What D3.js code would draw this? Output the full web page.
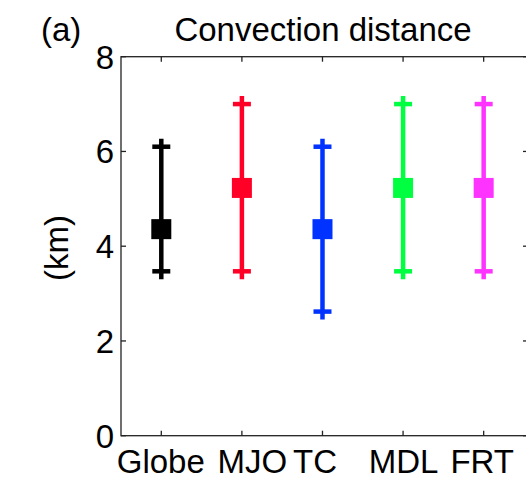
<!DOCTYPE html>
<html><head>
<meta charset="utf-8">
<script src="https://d3js.org/d3.v7.min.js"></script>
<style>
  body { margin: 0; background: #fff; }
  text { font-family: "Liberation Sans", Arial, sans-serif; fill: #000; }
</style>
</head>
<body>
<svg id="chart" width="526" height="481"></svg>
<script>
// data
const regions = ["Globe", "MJO", "TC", "MDL", "FRT"];
const meanKm  = [4.36, 5.23, 4.36, 5.23, 5.23];
const lowKm   = [3.47, 3.47, 2.62, 3.47, 3.47];
const highKm  = [6.10, 7.00, 6.10, 7.00, 7.00];
const colors  = ["#000000", "#ff0027", "#0033ff", "#00ff40", "#ff33ff"];
const yTicks  = [0, 2, 4, 6, 8];
// the tick labels in the original are not exactly centred on the ticks
const labelShift = [-0.5, 10.5, -7.5, 0.5, -1.5];

const svg = d3.select("#chart");
const pLeft = 121, pRight = 528, pTop = 56.7, pBottom = 435.7;
const fs = 33;

const x = d3.scaleLinear().domain([0.5, 5.55]).range([pLeft, pRight]);
const y = d3.scaleLinear().domain([0, 8]).range([pBottom, pTop]);

// axes box
const ax = svg.append("g").attr("stroke", "#222").attr("stroke-width", 1.3).attr("fill", "none");
ax.append("rect").attr("x", pLeft).attr("y", pTop).attr("width", pRight - pLeft).attr("height", pBottom - pTop);

// ticks (inward, on all sides)
const tl = 5;
regions.forEach((r, i) => {
  ax.append("line").attr("x1", x(i + 1)).attr("x2", x(i + 1)).attr("y1", pBottom).attr("y2", pBottom - tl);
  ax.append("line").attr("x1", x(i + 1)).attr("x2", x(i + 1)).attr("y1", pTop).attr("y2", pTop + tl);
});
yTicks.forEach(t => {
  ax.append("line").attr("x1", pLeft).attr("x2", pLeft + tl).attr("y1", y(t)).attr("y2", y(t));
  ax.append("line").attr("x1", pRight).attr("x2", pRight - tl).attr("y1", y(t)).attr("y2", y(t));
});

// tick labels
svg.selectAll("text.ylab").data(yTicks).join("text")
  .attr("class", "ylab")
  .attr("x", pLeft - 7).attr("y", d => y(d)).attr("dy", "0.36em")
  .attr("text-anchor", "end").attr("font-size", fs)
  .text(d => d);

svg.selectAll("text.xlab").data(regions).join("text")
  .attr("class", "xlab")
  .attr("x", (d, i) => x(i + 1) + labelShift[i]).attr("y", 473)
  .attr("text-anchor", "middle").attr("font-size", fs)
  .text(d => d);

// error bars with "+" end markers and square at the mean
const g = svg.append("g");
regions.forEach((r, i) => {
  const cx = x(i + 1), c = colors[i];
  g.append("line").attr("x1", cx).attr("x2", cx)
    .attr("y1", y(lowKm[i]) + 8).attr("y2", y(highKm[i]) - 8)
    .attr("stroke", c).attr("stroke-width", 4.5);
  [lowKm[i], highKm[i]].forEach(v => {
    g.append("line").attr("x1", cx - 9).attr("x2", cx + 9)
      .attr("y1", y(v)).attr("y2", y(v))
      .attr("stroke", c).attr("stroke-width", 4.5);
  });
  g.append("rect").attr("x", cx - 10).attr("y", y(meanKm[i]) - 10)
    .attr("width", 20).attr("height", 20).attr("fill", c);
});

// labels
svg.append("text").attr("x", 56).attr("y", 248)
  .attr("transform", "rotate(-90,56,248)")
  .attr("text-anchor", "middle").attr("dy", "0.35em").attr("font-size", fs)
  .text("(km)");

svg.append("text").attr("x", 323).attr("y", 41)
  .attr("text-anchor", "middle").attr("font-size", fs)
  .text("Convection distance");

svg.append("text").attr("x", 41).attr("y", 41).attr("font-size", fs).text("(a)");
</script>
</body>
</html>
